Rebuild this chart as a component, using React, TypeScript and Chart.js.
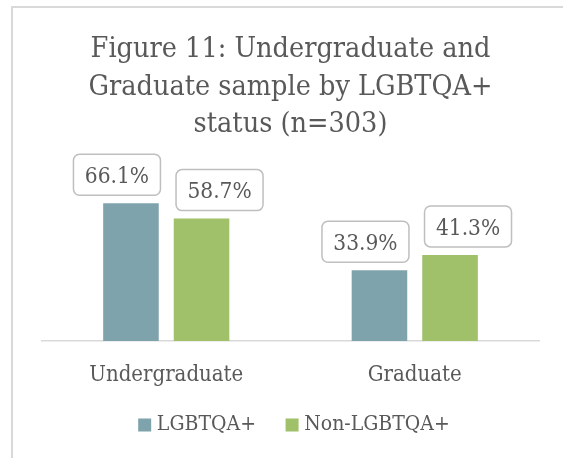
import React, { useEffect, useRef } from "react";
import { Chart, registerables } from "chart.js";

Chart.register(...registerables);

const categories = ["Undergraduate", "Graduate"];
const seriesNames = ["LGBTQA+", "Non-LGBTQA+"];
const lgbtqaValues = [66.1, 33.9];
const nonLgbtqaValues = [58.7, 41.3];
const titleLines = ["Figure 11: Undergraduate and", "Graduate sample by LGBTQA+", "status (n=303)"];

const FONT = "'DejaVu Serif Condensed', 'DejaVu Serif', serif";
const TEXT = "#595959";
const COLORS = ["#7FA3AD", "#A0C06A"];
const LABEL_OFFSETS = [-14, 18];

const boxLabels = {
  id: "boxLabels",
  afterDatasetsDraw(chart: any) {
    const ctx = chart.ctx;
    chart.data.datasets.forEach((ds: any, di: number) => {
      const meta = chart.getDatasetMeta(di);
      meta.data.forEach((bar: any, i: number) => {
        const text = Number(ds.data[i]).toFixed(1) + "%";
        const w = 87;
        const h = 41;
        const cx = bar.x + LABEL_OFFSETS[di];
        const bottom = bar.y - 8;
        ctx.save();
        ctx.beginPath();
        ctx.roundRect(cx - w / 2, bottom - h, w, h, 6);
        ctx.fillStyle = "#ffffff";
        ctx.fill();
        ctx.lineWidth = 1.5;
        ctx.strokeStyle = "#BFBFBF";
        ctx.stroke();
        ctx.font = `22.5px ${FONT}`;
        ctx.fillStyle = TEXT;
        ctx.textAlign = "center";
        ctx.textBaseline = "middle";
        ctx.fillText(text, cx, bottom - h / 2 + 2.5);
        ctx.restore();
      });
    });
  },
};

const customLegend = {
  id: "customLegend",
  afterDraw(chart: any) {
    const ctx = chart.ctx;
    ctx.save();
    ctx.font = `21px ${FONT}`;
    const box = 13;
    const gapText = 5.7;
    const gapItem = 29.6;
    const items = chart.data.datasets.map((ds: any) => ({
      label: ds.label,
      color: ds.backgroundColor,
      w: ctx.measureText(ds.label).width,
    }));
    let total = 0;
    items.forEach((it: any, i: number) => {
      total += box + gapText + it.w + (i < items.length - 1 ? gapItem : 0);
    });
    const cy = chart.chartArea.bottom + 84;
    let x = chart.width / 2 + 4 - total / 2;
    items.forEach((it: any) => {
      ctx.fillStyle = it.color;
      ctx.fillRect(x, cy - box / 2, box, box);
      x += box + gapText;
      ctx.fillStyle = TEXT;
      ctx.textAlign = "left";
      ctx.textBaseline = "middle";
      ctx.fillText(it.label, x, cy);
      x += it.w + gapItem;
    });
    ctx.restore();
  },
};

export default function App() {
  const ref = useRef<HTMLCanvasElement | null>(null);
  useEffect(() => {
    if (!ref.current) return;
    const chart = new Chart(ref.current, {
      type: "bar",
      data: {
        labels: categories,
        datasets: [
          {
            label: seriesNames[0],
            data: lgbtqaValues,
            backgroundColor: COLORS[0],
            categoryPercentage: 0.568,
            barPercentage: 0.7875,
          },
          {
            label: seriesNames[1],
            data: nonLgbtqaValues,
            backgroundColor: COLORS[1],
            categoryPercentage: 0.568,
            barPercentage: 0.7875,
          },
        ],
      },
      options: {
        animation: false,
        responsive: false,
        maintainAspectRatio: false,
        layout: { padding: { left: 30, right: 29, top: 0, bottom: 48.6 } },
        plugins: {
          legend: { display: false },
          tooltip: { enabled: false },
          title: {
            display: true,
            text: titleLines,
            color: TEXT,
            font: { family: FONT, size: 28.5, weight: "normal", lineHeight: 1.316 },
            padding: { top: 31.3, bottom: 30.4 },
          },
        },
        scales: {
          x: {
            grid: { display: false, drawTicks: false },
            border: { display: true, color: "#D9D9D9", width: 1.5 },
            ticks: {
              color: TEXT,
              font: { family: FONT, size: 22, lineHeight: 1.2 },
              padding: 21,
            },
          },
          y: {
            display: false,
            min: 0,
            max: 80,
          },
        },
      },
      plugins: [boxLabels, customLegend],
    });
    return () => chart.destroy();
  }, []);

  return (
    <>
      <div
        style={{
          position: "fixed",
          left: 11,
          top: 6,
          width: 700,
          height: 700,
          border: "2px solid #D9D9D9",
          boxSizing: "border-box",
          background: "#ffffff",
        }}
      />
      <canvas
        ref={ref}
        width={556}
        height={458}
        style={{ position: "fixed", left: 12, top: 0, width: 556, height: 458 }}
      />
    </>
  );
}
